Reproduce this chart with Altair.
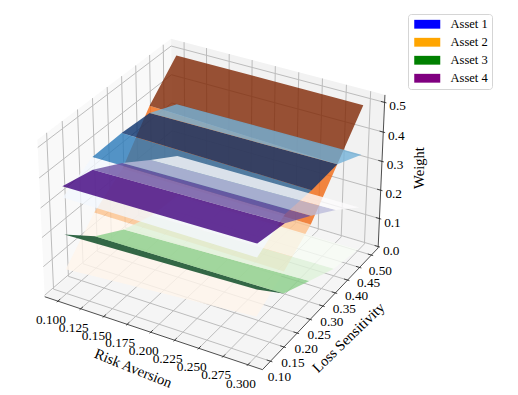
import numpy as np
import pandas as pd
import altair as alt

# ---- values ----
risk = [0.1, 0.3]
loss = [0.1, 0.2, 0.3, 0.4, 0.5]
# weight at risk aversion 0.1 (first row) and 0.3 (second row), per loss sensitivity
asset_1 = [[0.325, 0.38, 0.383, 0.375, 0.33], [0.325, 0.38, 0.375, 0.38, 0.333]]
asset_2 = [[0.08, 0.19, 0.26, 0.40, 0.50], [0.13, 0.19, 0.26, 0.38, 0.50]]
asset_3 = [[0.20, 0.107, 0.045, 0.01, 0.0], [0.22, 0.115, 0.067, 0.02, 0.0]]
asset_4 = [[0.363, 0.337, 0.28, 0.21, 0.145], [0.37, 0.35, 0.29, 0.225, 0.15]]
# colour-map position of each band between two loss values
levels_1 = [0.02, 0.72, 1.0, 0.48]
levels_2 = [0.0, 0.30, 0.63, 1.0]
levels_3 = [1.0, 0.44, 0.15, 0.0]
levels_4 = [1.0, 0.75, 0.38, 0.0]
blues = ["#f7fbff", "#deebf7", "#c6dbef", "#9ecae1", "#6baed6", "#4292c6", "#2171b5", "#08519c", "#08306b"]
oranges = ["#fff5eb", "#fee6ce", "#fdd0a2", "#fdae6b", "#fd8d3c", "#f16913", "#d94801", "#a63603", "#7f2704"]
greens = ["#f7fcf5", "#e5f5e0", "#c7e9c0", "#a1d99b", "#74c476", "#41ab5d", "#238b45", "#006d2c", "#00441b"]
purples = ["#fcfbfd", "#efedf5", "#dadaeb", "#bcbddc", "#9e9ac8", "#807dba", "#6a51a3", "#54278f", "#3f007d"]
x_ticks = [0.1, 0.125, 0.15, 0.175, 0.2, 0.225, 0.25, 0.275, 0.3]
x_labels = ["0.100", "0.125", "0.150", "0.175", "0.200", "0.225", "0.250", "0.275", "0.300"]
y_ticks = [0.1, 0.15, 0.2, 0.25, 0.3, 0.35, 0.4, 0.45, 0.5]
y_labels = ["0.10", "0.15", "0.20", "0.25", "0.30", "0.35", "0.40", "0.45", "0.50"]
z_ticks = [0.0, 0.1, 0.2, 0.3, 0.4, 0.5]
z_labels = ["0.0", "0.1", "0.2", "0.3", "0.4", "0.5"]
names = ["Asset 1", "Asset 2", "Asset 3", "Asset 4"]
legend_colors = ["#0000ff", "#ffa500", "#008000", "#800080"]

# ---- 3-D box and camera ----
X0, X1 = 0.0854, 0.3146
Y0, Y1 = 0.0708, 0.5292
Z0, Z1 = -0.005, 0.525
HX, HY, HZ = 0.595, 0.595, 0.415
U = np.array([0.8660254, 0.5, 0.0])
V = np.array([-0.25, 0.4330127, 0.8660254])
W_ = np.array([0.4330127, -0.75, 0.5])
DIST = 10.0
W, H = 502, 384
SX, OX, SY, OY = 2093.0, 214.5, 2155.0, 196.0
x_dom = [(8 - OX) / SX, (8 + W - OX) / SX]
y_dom = [(OY - 8 - H) / SY, (OY - 8) / SY]


def project(x, y, z):
    p = np.array([
        ((x - X0) / (X1 - X0) * 2 - 1) * HX,
        ((y - Y0) / (Y1 - Y0) * 2 - 1) * HY,
        ((z - Z0) / (Z1 - Z0) * 2 - 1) * HZ,
    ])
    d = DIST - W_.dot(p)
    return float(U.dot(p) / d), float(V.dot(p) / d)


def cmap(anchors, t):
    pos = t * (len(anchors) - 1)
    i = min(int(pos), len(anchors) - 2)
    f = pos - i
    a = [int(anchors[i][k:k + 2], 16) for k in (1, 3, 5)]
    b = [int(anchors[i + 1][k:k + 2], 16) for k in (1, 3, 5)]
    return "#%02x%02x%02x" % tuple(round(u + (v - u) * f) for u, v in zip(a, b))


def polygon_rows(pts, fid, color):
    xs = sorted({round(p[0], 7) for p in pts})
    rows = []
    n = len(pts)
    for x in xs:
        ys = []
        for i in range(n):
            a, b = pts[i], pts[(i + 1) % n]
            lo, hi = min(a[0], b[0]), max(a[0], b[0])
            if lo - 2e-7 <= x <= hi + 2e-7:
                if abs(b[0] - a[0]) < 1e-9:
                    ys += [a[1], b[1]]
                else:
                    ys.append(a[1] + (b[1] - a[1]) * (x - a[0]) / (b[0] - a[0]))
        rows.append({"fid": fid, "px": x, "lo": min(ys), "hi": max(ys), "col": color})
    return rows


xs = alt.Scale(domain=x_dom, nice=False, zero=False)
ys = alt.Scale(domain=y_dom, nice=False, zero=False)


def area_layer(rows, opacity):
    return alt.Chart(pd.DataFrame(rows)).mark_area(opacity=opacity, interpolate="linear").encode(
        x=alt.X("px:Q", scale=xs, axis=None),
        y=alt.Y("lo:Q", scale=ys, axis=None, stack=None),
        y2="hi:Q",
        detail="fid:N",
        fill=alt.Fill("col:N", scale=None),
    )


def surface_layer(z_table, levels, anchors):
    rows = []
    fid = 0
    for i in range(len(risk) - 1):
        for j in range(len(loss) - 1):
            pts = [project(risk[i], loss[j], z_table[i][j]),
                   project(risk[i + 1], loss[j], z_table[i + 1][j]),
                   project(risk[i + 1], loss[j + 1], z_table[i + 1][j + 1]),
                   project(risk[i], loss[j + 1], z_table[i][j + 1])]
            rows += polygon_rows(pts, fid, cmap(anchors, levels[j]))
            fid += 1
    return area_layer(rows, 0.8)


def rule_layer(segs, color, width):
    rows = []
    for a, b in segs:
        p, q = project(*a), project(*b)
        rows.append({"a": p[0], "b": p[1], "c": q[0], "d": q[1]})
    return alt.Chart(pd.DataFrame(rows)).mark_rule(color=color, strokeWidth=width).encode(
        x=alt.X("a:Q", scale=xs, axis=None), y=alt.Y("b:Q", scale=ys, axis=None),
        x2="c:Q", y2="d:Q")


def text_layer(points, labels, dx, dy, size):
    rows = [{"a": project(*p)[0], "b": project(*p)[1], "t": t} for p, t in zip(points, labels)]
    return alt.Chart(pd.DataFrame(rows)).mark_text(
        font="Liberation Serif", fontSize=size, color="#000000", dx=dx, dy=dy, align="center", baseline="middle"
    ).encode(x=alt.X("a:Q", scale=xs, axis=None), y=alt.Y("b:Q", scale=ys, axis=None), text="t:N")


def title_layer(text, px, py, angle):
    return alt.Chart(pd.DataFrame({"t": [text]})).mark_text(
        font="Liberation Serif", fontSize=14.6, color="#000000", angle=angle, align="center", baseline="middle"
    ).encode(x=alt.value(px - 8), y=alt.value(py - 8), text="t:N")


# panes
pane_rows = []
pane_rows += polygon_rows([project(X0, Y0, Z0), project(X0, Y1, Z0), project(X0, Y1, Z1), project(X0, Y0, Z1)], 0, "#f9f9f9")
pane_rows += polygon_rows([project(X0, Y1, Z0), project(X1, Y1, Z0), project(X1, Y1, Z1), project(X0, Y1, Z1)], 1, "#f2f2f2")
pane_rows += polygon_rows([project(X0, Y0, Z0), project(X1, Y0, Z0), project(X1, Y1, Z0), project(X0, Y1, Z0)], 2, "#f5f5f5")
panes = area_layer(pane_rows, 1.0)

# grid lines
grid = []
for t in x_ticks:
    grid += [((t, Y0, Z0), (t, Y1, Z0)), ((t, Y1, Z0), (t, Y1, Z1))]
for t in y_ticks:
    grid += [((X0, t, Z0), (X1, t, Z0)), ((X0, t, Z0), (X0, t, Z1))]
for t in z_ticks:
    grid += [((X0, Y0, t), (X0, Y1, t)), ((X0, Y1, t), (X1, Y1, t))]

# axis lines and tick marks
dx_t = (X1 - X0) / 12
dy_t = (Y1 - Y0) / 12
axis = [((X0, Y0, Z0), (X1, Y0, Z0)), ((X1, Y0, Z0), (X1, Y1, Z0)), ((X1, Y1, Z0), (X1, Y1, Z1))]
for t in x_ticks:
    axis.append(((t, Y0 - 0.1 * dy_t, Z0), (t, Y0 + 0.2 * dy_t, Z0)))
for t in y_ticks:
    axis.append(((X1 - 0.2 * dx_t, t, Z0), (X1 + 0.1 * dx_t, t, Z0)))
for t in z_ticks:
    axis.append(((X1 - 0.2 * dx_t, Y1, t), (X1 + 0.1 * dx_t, Y1, t)))

legend_layer = alt.Chart(pd.DataFrame({"asset": names})).mark_point(filled=True, opacity=0).encode(
    x=alt.value(0), y=alt.value(0),
    color=alt.Color("asset:N", scale=alt.Scale(domain=names, range=legend_colors), legend=alt.Legend(
        title=None, orient="none", legendX=400, legendY=6, padding=4,
        fillColor="#ffffff", strokeColor="#d5d5d5", cornerRadius=3,
        symbolType="M-2.89,-0.98H2.89V0.98H-2.89Z", symbolSize=81, symbolOpacity=1, symbolStrokeWidth=0,
        symbolOffset=9, labelOffset=17, rowPadding=5,
        labelFont="Liberation Serif", labelFontSize=12.5, labelColor="#000000")),
)

chart = alt.layer(
    panes,
    rule_layer(grid, "#bcbcbc", 1.0),
    rule_layer(axis, "#222222", 0.8),
    surface_layer(asset_2, levels_2, oranges),
    surface_layer(asset_3, levels_3, greens),
    surface_layer(asset_1, levels_1, blues),
    surface_layer(asset_4, levels_4, purples),
    text_layer([(t, Y0, Z0) for t in x_ticks], x_labels, -7, 19, 13.3),
    text_layer([(X1, t, Z0) for t in y_ticks], y_labels, 9, 16, 13.3),
    text_layer([(X1, Y1, t) for t in z_ticks], z_labels, 13, 4, 13.3),
    title_layer("Risk Aversion", 133, 369, 22),
    title_layer("Loss Sensitivity", 349, 338, 316),
    title_layer("Weight", 420, 168, 270),
    legend_layer,
).resolve_scale(color="independent").properties(
    width=W, height=H, padding=0, autosize=alt.AutoSizeParams(type="none"),
    background="#ffffff",
).configure_view(stroke=None)

chart.save("out.html", embed_options={"renderer": "svg", "actions": False})
